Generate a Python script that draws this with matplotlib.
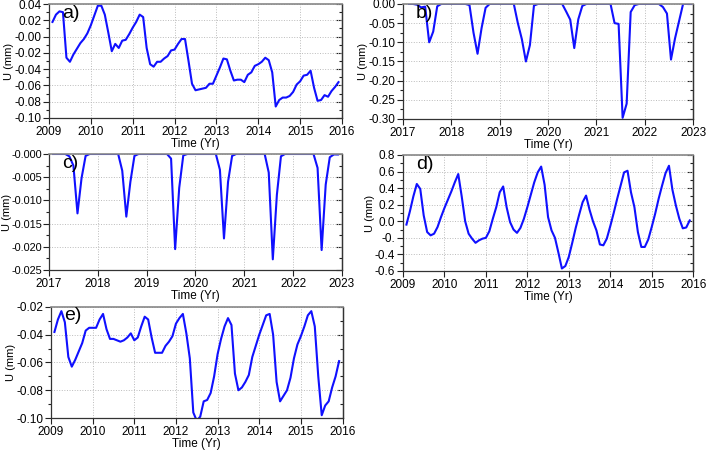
import numpy as np
import matplotlib.pyplot as plt
from matplotlib.ticker import MultipleLocator, AutoMinorLocator, FixedLocator, FixedFormatter, NullFormatter

plt.rcParams['font.family'] = ['Liberation Sans', 'DejaVu Sans']

# monthly series
u_a = [0.018, 0.027, 0.031, 0.030, -0.026, -0.031, -0.022, -0.015, -0.008, -0.003,
       0.004, 0.014, 0.026, 0.038, 0.038, 0.027, 0.005, -0.018, -0.009, -0.014,
       -0.005, -0.004, 0.003, 0.011, 0.018, 0.027, 0.024, -0.014, -0.034, -0.037,
       -0.031, -0.031, -0.027, -0.024, -0.017, -0.016, -0.009, -0.003, -0.003, -0.030,
       -0.058, -0.066, -0.065, -0.064, -0.063, -0.058, -0.058, -0.048, -0.038, -0.027,
       -0.028, -0.042, -0.054, -0.053, -0.053, -0.056, -0.047, -0.044, -0.036, -0.034,
       -0.031, -0.026, -0.029, -0.044, -0.086, -0.078, -0.075, -0.075, -0.073, -0.068,
       -0.059, -0.055, -0.048, -0.047, -0.042, -0.063, -0.079, -0.078, -0.072, -0.074,
       -0.067, -0.062, -0.056]

u_b = [0, 0, -0.002, -0.009, -0.007, -0.100, -0.072, -0.006, 0, 0,
       0, 0, 0, 0, 0, -0.003, -0.075, -0.130, -0.063, -0.010,
       0, 0, 0, 0, 0, 0, 0, -0.050, -0.092, -0.150,
       -0.107, -0.004, 0, 0, 0, 0, 0, 0, 0, -0.020,
       -0.041, -0.115, -0.040, -0.005, 0, 0, 0, 0, 0, 0,
       0, -0.050, -0.052, -0.297, -0.260, -0.021, -0.003, 0, 0, 0,
       0, 0, 0, -0.008, -0.025, -0.145, -0.090, -0.045, 0, 0,
       0]

u_c = [0, 0, 0, 0, -0.0005, -0.0025, -0.0128, -0.0052, -0.0004, 0,
       0, 0, 0, 0, 0, 0, 0, -0.0036, -0.0135, -0.0060,
       -0.0004, 0, 0, 0, 0, 0, 0, 0, 0, -0.0010,
       -0.0205, -0.0073, -0.0003, 0, 0, 0, 0, 0, 0, 0,
       0, -0.0034, -0.0182, -0.0060, -0.0004, 0, 0, 0, 0, 0,
       0, 0, 0, -0.0040, -0.0227, -0.0088, -0.0005, 0, 0, 0,
       0, 0, 0, 0, 0, -0.0030, -0.0207, -0.0066, -0.0007, -0.0001,
       -0.0001]

u_d = [-0.04, 0.12, 0.30, 0.45, 0.39, 0.07, -0.13, -0.17, -0.15, -0.07,
       0.05, 0.16, 0.26, 0.36, 0.47, 0.57, 0.30, 0.00, -0.15, -0.21,
       -0.26, -0.23, -0.21, -0.20, -0.12, 0.03, 0.17, 0.35, 0.42, 0.17,
       -0.01, -0.10, -0.14, -0.08, 0.03, 0.17, 0.32, 0.47, 0.59, 0.66,
       0.44, 0.05, -0.11, -0.20, -0.38, -0.57, -0.54, -0.43, -0.26, -0.08,
       0.08, 0.23, 0.31, 0.14, 0.00, -0.11, -0.28, -0.29, -0.21, -0.06,
       0.10, 0.27, 0.43, 0.59, 0.61, 0.35, 0.17, -0.13, -0.31, -0.31,
       -0.22, -0.07, 0.09, 0.27, 0.43, 0.58, 0.67, 0.38, 0.19, 0.03,
       -0.085, -0.075, 0.01]

u_e = [-0.038, -0.029, -0.023, -0.031, -0.056, -0.063, -0.058, -0.052, -0.046, -0.037,
       -0.035, -0.035, -0.035, -0.029, -0.025, -0.036, -0.043, -0.043, -0.044, -0.045,
       -0.044, -0.042, -0.039, -0.044, -0.042, -0.034, -0.027, -0.029, -0.042, -0.053,
       -0.053, -0.053, -0.048, -0.045, -0.041, -0.032, -0.028, -0.025, -0.039, -0.057,
       -0.096, -0.102, -0.099, -0.088, -0.087, -0.082, -0.070, -0.054, -0.043, -0.034,
       -0.028, -0.033, -0.068, -0.080, -0.078, -0.074, -0.069, -0.056, -0.048, -0.040,
       -0.033, -0.026, -0.025, -0.040, -0.074, -0.088, -0.084, -0.080, -0.071, -0.057,
       -0.047, -0.041, -0.034, -0.026, -0.023, -0.034, -0.070, -0.098, -0.091, -0.088,
       -0.078, -0.070, -0.059]

t_a = 2009 + np.arange(1, len(u_a) + 1) / 12
t_b = 2017 + (np.arange(1, len(u_b) + 1) + 0.5) / 12
t_c = 2017 + np.arange(1, len(u_c) + 1) / 12
t_d = 2009 + np.arange(1, len(u_d) + 1) / 12
t_e = 2009 + np.arange(1, len(u_e) + 1) / 12

d_ticks = [0.8, 0.6, 0.4, 0.2, 0.0, -0.2, -0.4, -0.6]
d_labels = ['0.8', '0.6', '0.4', '0.2', '0.0', '-0.', '-0.4', '-0.6']

panels = [
    # label, t, u, rect, xlim, ylim, ystep, fmt
    ('a)', t_a, u_a, [0.0694, 0.738, 0.415, 0.253], (2009, 2016), (-0.10, 0.04), 0.02, '%.2f'),
    ('b)', t_b, u_b, [0.5708, 0.7356, 0.411, 0.2556], (2017, 2023), (-0.30, 0.0), 0.05, '%.2f'),
    ('c)', t_c, u_c, [0.0694, 0.400, 0.415, 0.2578], (2017, 2023), (-0.025, 0.0), 0.005, '%.3f'),
    ('d)', t_d, u_d, [0.5708, 0.3978, 0.411, 0.2578], (2009, 2016), (-0.6, 0.8), 0.2, None),
    ('e)', t_e, u_e, [0.0722, 0.0711, 0.413, 0.2467], (2009, 2016), (-0.10, -0.02), 0.02, '%.2f'),
]

fig = plt.figure(figsize=(7.06, 4.5), dpi=100)

for label, t, u, rect, xlim, ylim, ystep, fmt in panels:
    ax = fig.add_axes(rect)
    ax.plot(t, u, color='#1010ff', lw=1.5)
    ax.set_xlim(*xlim)
    ax.set_ylim(*ylim)
    ax.xaxis.set_major_locator(MultipleLocator(1))
    if fmt is None:
        ax.yaxis.set_major_locator(FixedLocator(d_ticks))
        ax.yaxis.set_major_formatter(FixedFormatter(d_labels))
    else:
        ax.yaxis.set_major_locator(MultipleLocator(ystep))
        ax.yaxis.set_major_formatter(plt.FormatStrFormatter(fmt))
    ax.yaxis.set_minor_locator(AutoMinorLocator(2))
    ax.grid(True, which='major', ls=':', color='#bbbbbb', lw=0.7)
    ax.tick_params(axis='both', which='both', labelsize=8.5, direction='out',
                   width=0.8, color='#222222')
    ax.tick_params(axis='y', which='major', length=4, pad=1.5)
    ax.tick_params(axis='y', which='minor', length=2.5)
    ax.tick_params(axis='x', which='major', length=4, pad=1.5)

    # right side: inward ticks, no labels
    rax = ax.secondary_yaxis('right')
    if fmt is None:
        rax.yaxis.set_major_locator(FixedLocator(d_ticks))
    else:
        rax.yaxis.set_major_locator(MultipleLocator(ystep))
    rax.yaxis.set_minor_locator(AutoMinorLocator(2))
    rax.yaxis.set_major_formatter(NullFormatter())
    rax.tick_params(axis='y', which='both', direction='in', width=0.8, color='#222222')
    rax.tick_params(axis='y', which='major', length=4)
    rax.tick_params(axis='y', which='minor', length=2.5)
    rax.spines['right'].set_color('#333333')
    rax.spines['right'].set_linewidth(0.9)

    for s in ax.spines.values():
        s.set_color('#333333')
        s.set_linewidth(0.9)
    ax.spines['top'].set_color('#888888')
    ax.spines['top'].set_linewidth(1.2)
    ax.set_xlabel('Time (Yr)', fontsize=8.5, labelpad=0)
    ax.set_ylabel('U (mm)', fontsize=8, labelpad=0)
    if label == 'c)':
        # wide tick labels: squeeze them a little so the axis label fits
        ax.tick_params(axis='y', which='major', labelsize=7.8, pad=1)
        ax.yaxis.set_label_coords(-0.127, 0.5)
    ax.text(0.045, 0.92, label, transform=ax.transAxes, fontsize=14,
            va='center', ha='left')

fig.savefig('out.png', dpi=100)
